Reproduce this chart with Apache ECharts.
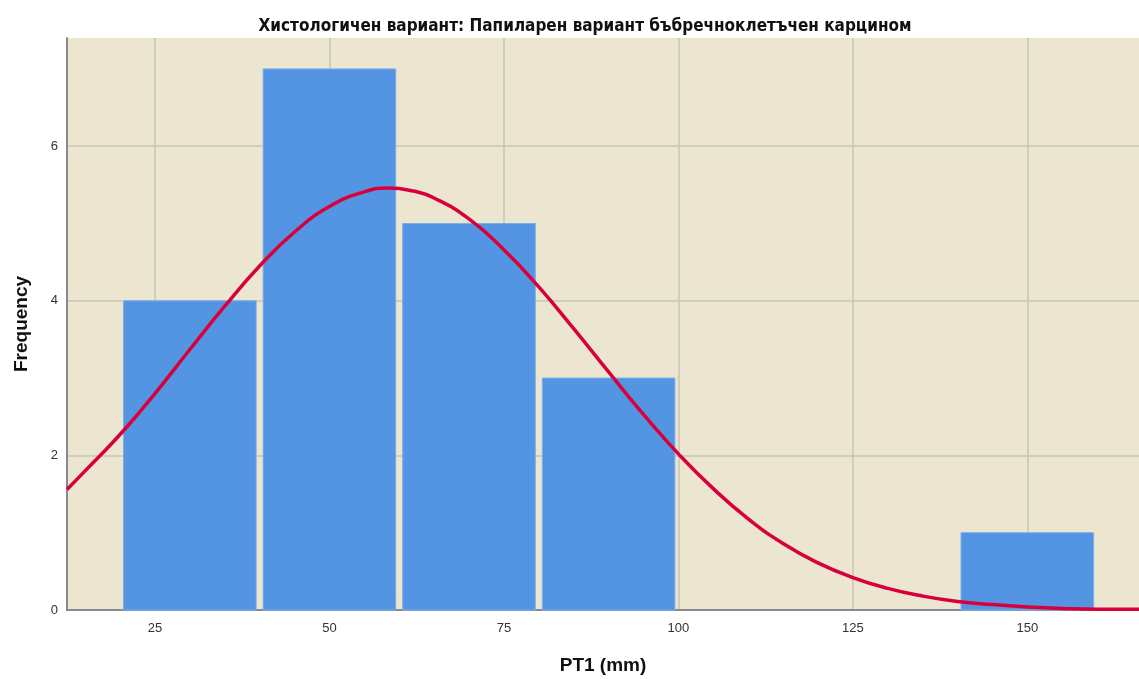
<!DOCTYPE html>
<html>
<head>
<meta charset="utf-8">
<script src="https://cdn.jsdelivr.net/npm/echarts@6/dist/echarts.min.js"></script>
<style>
  html, body { margin: 0; padding: 0; background: #fff; }
</style>
</head>
<body>
<div id="histChart" style="width: 1139px; height: 679px;"></div>
<script>
// histogram bins (mm) and counts
var binStart = [20, 40, 60, 80, 140]
var binEnd = [40, 60, 80, 100, 160]
var counts = [4, 7, 5, 3, 1]

// normal curve
var curveX = [12.4, 15, 20, 25, 30, 35, 40, 45, 50, 55, 58.5, 62, 65, 70, 75, 80, 85, 90, 95, 100, 105, 110, 115, 120, 125, 130, 135, 140, 145, 150, 155, 160, 166]
var curveY = [1.56, 1.80, 2.27, 2.80, 3.37, 3.93, 4.45, 4.89, 5.22, 5.41, 5.46, 5.42, 5.33, 5.06, 4.66, 4.18, 3.64, 3.08, 2.53, 2.02, 1.57, 1.18, 0.86, 0.61, 0.42, 0.28, 0.18, 0.11, 0.07, 0.04, 0.02, 0.01, 0.01]

var xTicks = [25, 50, 75, 100, 125, 150]
var yTicks = [0, 2, 4, 6]

var myChart = echarts.init(document.getElementById('histChart'))

var barData = []
for (var i = 0; i < counts.length; i++) {
  barData.push([binStart[i], binEnd[i], counts[i]])
}
var lineData = []
for (var j = 0; j < curveX.length; j++) {
  lineData.push([curveX[j], curveY[j]])
}

var option = {
  animation: false,
  title: {
    text: 'Хистологичен вариант: Папиларен вариант бъбречноклетъчен карцином',
    left: 580,
    textAlign: 'center',
    top: 13,
    textStyle: {
      fontFamily: 'DejaVu Sans Condensed, Liberation Sans',
      fontWeight: 'bold',
      fontSize: 17,
      color: '#111'
    }
  },
  grid: {
    left: 67,
    right: 0,
    top: 38,
    bottom: 69,
    outerBoundsMode: 'none',
    show: true,
    backgroundColor: '#ece6d1',
    borderWidth: 0
  },
  xAxis: {
    type: 'value',
    min: 12.4,
    max: 166,
    name: 'PT1 (mm)',
    nameLocation: 'middle',
    nameGap: 46,
    nameTextStyle: { fontFamily: 'Liberation Sans', fontWeight: 'bold', fontSize: 19, color: '#111' },
    axisLine: { lineStyle: { color: '#8a8a8a', width: 2 } },
    axisTick: { show: false, customValues: xTicks },
    axisLabel: { customValues: xTicks, color: '#333', fontFamily: 'Liberation Sans', fontSize: 13, margin: 12 },
    splitLine: { show: true, lineStyle: { color: '#c9c4b6', width: 1.5 } }
  },
  yAxis: {
    type: 'value',
    min: 0,
    max: 7.4,
    name: 'Frequency',
    nameLocation: 'middle',
    nameGap: 36,
    nameRotate: 90,
    nameTextStyle: { fontFamily: 'Liberation Sans', fontWeight: 'bold', fontSize: 19, color: '#111' },
    axisLine: { show: true, lineStyle: { color: '#8a8a8a', width: 2 } },
    axisTick: { show: false, customValues: yTicks },
    axisLabel: { customValues: yTicks, color: '#333', fontFamily: 'Liberation Sans', fontSize: 13, margin: 9 },
    splitLine: { show: true, lineStyle: { color: '#c9c4b6', width: 1.5 } }
  },
  series: [
    {
      name: 'Frequency',
      type: 'custom',
      data: barData,
      encode: { x: [0, 1], y: 2 },
      renderItem: function (params, api) {
        var p0 = api.coord([api.value(0), api.value(2)])
        var p1 = api.coord([api.value(1), 0])
        var gap = 3.5
        return {
          type: 'rect',
          shape: { x: p0[0] + gap, y: p0[1], width: p1[0] - p0[0] - gap * 2, height: p1[1] - p0[1] },
          style: { fill: '#5495e3', stroke: '#78aeea', lineWidth: 1 }
        }
      },
      z: 2
    },
    {
      name: 'Normal',
      type: 'line',
      data: lineData,
      smooth: true,
      showSymbol: false,
      lineStyle: { color: '#d8003a', width: 3.5 },
      z: 3
    }
  ]
}
myChart.setOption(option)
</script>
</body>
</html>
